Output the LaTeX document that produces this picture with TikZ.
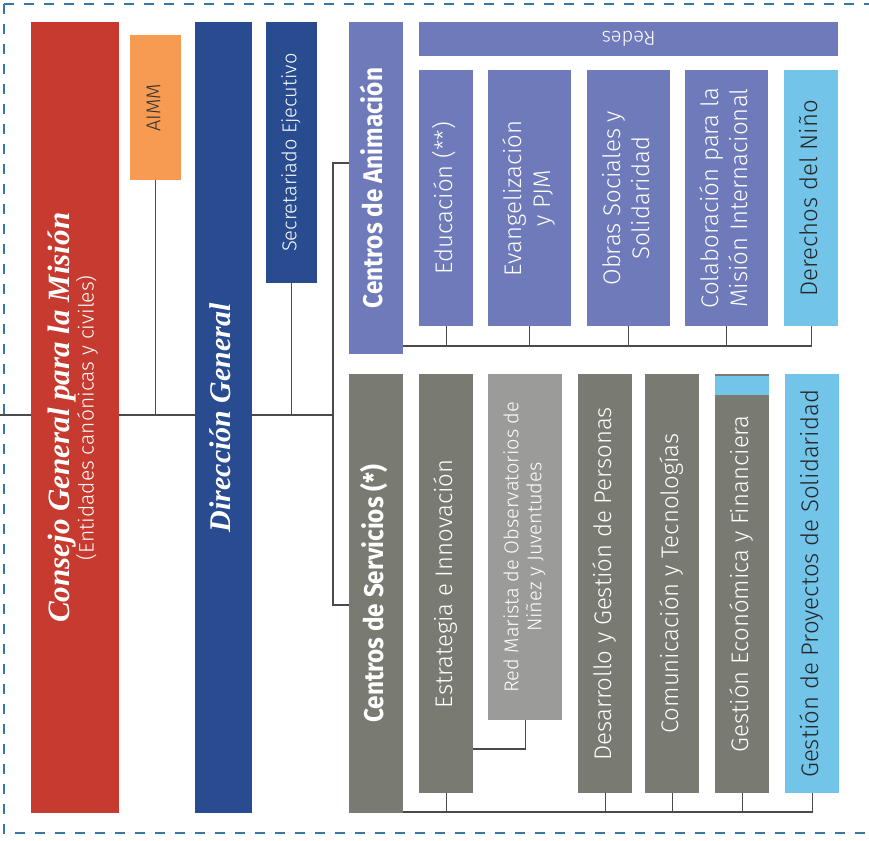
\documentclass[tikz,border=0pt]{standalone}
\usepackage{fontspec}
\usepackage{graphicx}
\usetikzlibrary{positioning,calc}
\newfontfamily\lightfont{Fira Sans Light}
\newfontfamily\heavyfont{Fira Sans}[FakeStretch=0.9]
\newfontfamily\cursivefont{Liberation Serif}
\definecolor{mredd}{RGB}{198,58,47}
\definecolor{morange}{RGB}{247,155,82}
\definecolor{mblue}{RGB}{40,76,143}
\definecolor{mviolet}{RGB}{110,122,185}
\definecolor{msky}{RGB}{114,196,232}
\definecolor{mgray}{RGB}{121,122,113}
\definecolor{mlgray}{RGB}{155,156,154}
\definecolor{mline}{RGB}{74,74,74}
\definecolor{mdash}{RGB}{58,118,163}
\newcommand{\vlbl}[1]{\rotatebox{90}{\begin{tabular}{@{}c@{}}#1\end{tabular}}}

\begin{document}
\begin{tikzpicture}[x=1pt, y=-1pt,
    box/.style={inner sep=0pt, anchor=north west, text=white,
                font=\lightfont\fontsize{24}{29}\selectfont},
    wh/.style 2 args={minimum width=#1pt, minimum height=#2pt},
    redbox/.style={box, fill=mredd},
    orangebox/.style={box, fill=morange, text=black!80},
    bluebox/.style={box, fill=mblue},
    violetbox/.style={box, fill=mviolet},
    skybox/.style={box, fill=msky, text=black!85},
    graybox/.style={box, fill=mgray},
    lgraybox/.style={box, fill=mlgray},
    script/.style={font=\cursivefont\bfseries\itshape\fontsize{30}{34}\selectfont},
    small/.style={font=\lightfont\fontsize{20}{23}\selectfont},
    head/.style={font=\heavyfont\bfseries\fontsize{27}{30}\selectfont},
    conn/.style={draw=mline, line width=1.2pt},
    border/.style={draw=mdash, line width=2pt, dash pattern=on 10pt off 10pt}
]
\useasboundingbox (0,0) rectangle (869,840);
\clip (0,0) rectangle (869,840);

\draw[border] (4,4) rectangle (890,833);

% left column
\node[redbox, wh={88}{791}] (cgm) at (31,22)
  {\vlbl{{\cursivefont\bfseries\itshape\fontsize{31}{34}\selectfont Consejo General para la Misión}\\[-5pt]
   {\fontsize{21}{23}\selectfont (Entidades canónicas y civiles)}}};
\node[orangebox, small, wh={51}{145}] (aimm) at (130,35) {\vlbl{AIMM}};
\node[bluebox, script, wh={57}{791}] (dg) at (195,22) {\vlbl{Dirección General}};
\node[bluebox, small, wh={51}{261}] (se) at (266,22) {\vlbl{Secretariado Ejecutivo}};

% centros
\node[violetbox, head, wh={54}{332}] (ca) at (349,22) {\vlbl{Centros de Animación}};
\node[graybox, head, wh={54}{439}] (cs) at (349,374) {\vlbl{Centros de Servicios (*)}};

% animacion
\node[violetbox, small, wh={419}{34}] (redes) at (419,22) {\rotatebox{180}{Redes}};
\node[violetbox, wh={54}{256}] (edu) at (419,70) {\vlbl{Educación (**)}};
\node[violetbox, wh={83}{256}] (evg) at (488,70) {\vlbl{Evangelización\\ y PJM}};
\node[violetbox, wh={83}{256}] (obr) at (587,70) {\vlbl{Obras Sociales y\\ Solidaridad}};
\node[violetbox, wh={83}{256}] (col) at (685,70) {\vlbl{Colaboración para la\\ Misión Internacional}};
\node[skybox, wh={54}{256}] (der) at (784,70) {\vlbl{Derechos del Niño}};

% servicios
\node[graybox, wh={54}{419}] (est) at (419,374) {\vlbl{Estrategia e Innovación}};
\node[lgraybox, small, wh={74}{346}] (rmo) at (488,374)
  {\vlbl{Red Marista de Observatorios de\\ Niñez y Juventudes}};
\node[graybox, wh={54}{419}] (dgp) at (578,374) {\vlbl{Desarrollo y Gestión de Personas}};
\node[graybox, wh={54}{419}] (com) at (645,374) {\vlbl{Comunicación y Tecnologías}};
\node[graybox, wh={54}{419}] (gef) at (715,374) {\vlbl{Gestión Económica y Financiera}};
\fill[msky] ([yshift=-1.5pt]gef.north west) rectangle ([yshift=-21pt]gef.north east);
\node[skybox, wh={54}{419}] (gps) at (785,374) {\vlbl{Gestión de Proyectos de Solidaridad}};

% connectors
\coordinate (in) at (0,415);
\coordinate (jn) at (333,415);
\coordinate (jt) at (333,163);
\coordinate (jb) at (333,605);
\coordinate (abus) at (403,346);
\coordinate (sbus) at (403,812);
\coordinate (rk) at (525,749);

\draw[conn] (in) -- (in -| cgm.west);
\draw[conn] (cgm.east |- in) -- (dg.west |- in);
\draw[conn] (dg.east |- in) -- (jn);
\draw[conn] (aimm.south) -- (aimm.south |- in);
\draw[conn] (se.south) -- (se.south |- jn);
\draw[conn] (ca.west |- jt) -- (jt) -- (jb) -- (cs.west |- jb);

\draw[conn] (abus) -| (der.south);
\foreach \n in {edu,evg,obr,col}
  \draw[conn] (\n.south) -- (\n.south |- abus);

\draw[conn] (sbus) -| (gps.south);
\foreach \n in {est,dgp,com,gef}
  \draw[conn] (\n.south) -- (\n.south |- sbus);
\draw[conn] (rmo.south) |- (est.east |- rk);
\end{tikzpicture}
\end{document}
